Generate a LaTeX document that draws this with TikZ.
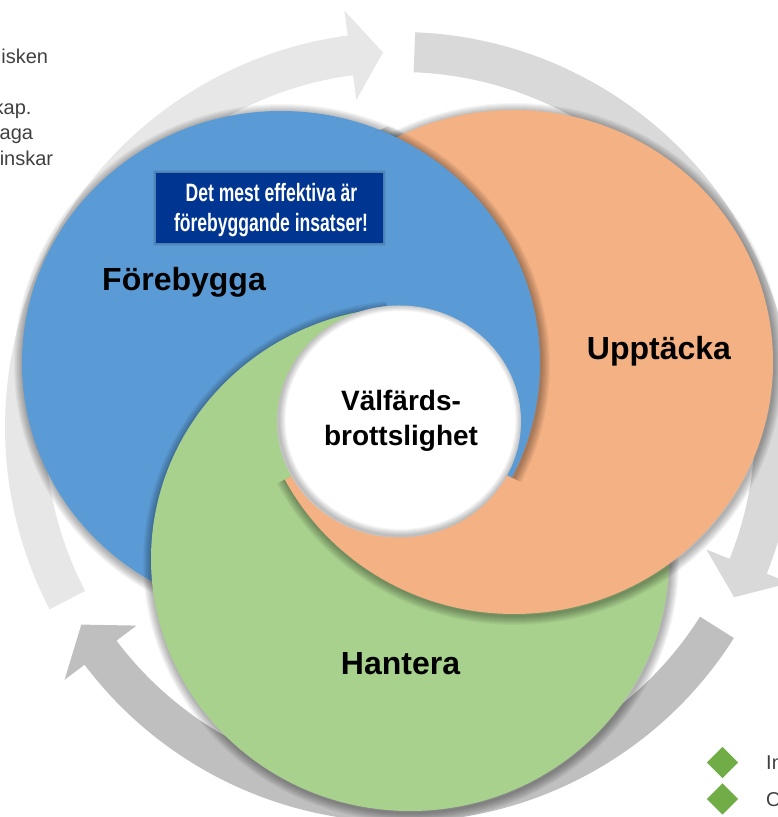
\documentclass[tikz,border=0pt]{standalone}
\usepackage{fontspec}
\setmainfont{Liberation Sans}
\usepackage{graphicx}
\usetikzlibrary{shapes.geometric}
\definecolor{cblue}{HTML}{5B9BD5}
\definecolor{corange}{HTML}{F4B183}
\definecolor{cgreen}{HTML}{A9D18E}
\definecolor{arrA}{HTML}{E7E7E7}
\definecolor{arrB}{HTML}{D9D9D9}
\definecolor{arrC}{HTML}{BFBFBF}
\definecolor{boxblue}{HTML}{003591}
\definecolor{txtgray}{HTML}{404040}
\definecolor{dgreen}{HTML}{70AD47}

\newcommand\swirlpiece[3]{%
  \foreach \w in {2,4,...,18}{\draw[line width=\w*1pt, black, opacity=0.04] (#2+1,#3-2) ellipse[x radius=259, y radius=252];}%
  \fill[#1] (#2,#3) ellipse[x radius=259, y radius=252];%
}
\newcommand\pieceB{\swirlpiece{cblue}{281}{454}}
\newcommand\pieceO{\swirlpiece{corange}{514}{455}}
\newcommand\pieceG{\swirlpiece{cgreen}{410}{258}}
\newcommand\sectorclip[2]{\clip (399,395.5) -- ++(#1:1500) arc[start angle=#1, end angle=#2, radius=1500] -- cycle;}

\tikzset{
  biglabel/.style={font=\fontsize{32}{38}\selectfont\bfseries, anchor=base, inner sep=0pt},
  midlabel/.style={font=\fontsize{28}{34}\selectfont\bfseries, anchor=base, inner sep=0pt},
  boxtext/.style={font=\fontsize{23.7}{28}\selectfont\bfseries, text=white, anchor=base, inner sep=0pt},
  sidetext/.style={font=\fontsize{20}{24}\selectfont, text=txtgray, inner sep=0pt},
  bullet/.style={diamond, fill=dgreen, minimum width=31.5pt, minimum height=31.5pt, inner sep=0pt}
}

\begin{document}
\begin{tikzpicture}[x=1pt,y=1pt]
\useasboundingbox (0,0) rectangle (777,817);

% circular gray arrows
\begin{scope}[shift={(400,390)}]
  \fill[arrA] (207.5:395) arc[start angle=207.5, end angle=97.6, radius=395]
     -- (97.6:420) -- (92.6:375) -- (97.6:330) -- (97.6:355)
     arc[start angle=97.6, end angle=207.5, radius=355] -- cycle;
  \fill[arrB] (87.8:395) arc[start angle=87.8, end angle=-21.8, radius=395]
     -- (-21.8:420) -- (-27:375) -- (-21.8:330) -- (-21.8:355)
     arc[start angle=-21.8, end angle=87.8, radius=355] -- cycle;
  \fill[arrC] (-32.3:395) arc[start angle=-32.3, end angle=-143, radius=395]
     -- (-143:420) -- (-148.2:375) -- (-143:330) -- (-143:355)
     arc[start angle=-143, end angle=-32.3, radius=355] -- cycle;
\end{scope}

% swirl pieces: blue, green over blue, orange (not in the left sector), blue again over orange (right sector)
\pieceB
\pieceG
\begin{scope}\sectorclip{207}{454.6}\pieceO\end{scope}
\begin{scope}\sectorclip{-26.4}{96}\clip (514,455) ellipse[x radius=273, y radius=266];\pieceB\end{scope}

% centre hole
\fill[white] (399,395.5) ellipse[x radius=122, y radius=116];
\begin{scope}
  \clip (399,395.5) ellipse[x radius=122, y radius=116];
  \foreach \w in {2,4,...,14}{\draw[line width=\w*1pt, black, opacity=0.04] (400.5,397) ellipse[x radius=122, y radius=116];}
\end{scope}

% blue box
\foreach \w in {2,4,6}{\draw[line width=\w*1pt, black, opacity=0.06] (156,574) rectangle (383,644);}
\node[fill=boxblue, minimum width=227pt, minimum height=70pt, inner sep=0pt] (box) at (269.5,609) {};
\node[boxtext] (box1) at (271.5,615.3) {\scalebox{0.74}[1.06]{Det mest effektiva är}};
\node[boxtext] (box2) at (271,585.3) {\scalebox{0.74}[1.06]{förebyggande insatser!}};

% labels
\node[biglabel] (forebygga) at (184,526.3) {Förebygga};
\node[biglabel] (upptacka) at (659,457) {Upptäcka};
\node[biglabel] (hantera) at (400.5,142.7) {Hantera};
\node[midlabel] (valfards) at (401,406.3) {Välfärds-};
\node[midlabel] (brott) at (401,371.3) {brottslighet};

% cut-off side texts
\node[sidetext, anchor=base east] (t1) at (48.3,753) {isken};
\node[sidetext, anchor=base east] (t2) at (31.7,702) {kap.};
\node[sidetext, anchor=base east] (t3) at (33.3,677) {aga};
\node[sidetext, anchor=base east] (t4) at (53.3,651.3) {inskar};

% bullets bottom right
\node[bullet] (d1) at (722.5,54.5) {};
\node[bullet] (d2) at (722.5,18) {};
\node[sidetext, anchor=base west] (b1) at (766,47) {In};
\node[sidetext, anchor=base west] (b2) at (766,10) {O};
\end{tikzpicture}
\end{document}
